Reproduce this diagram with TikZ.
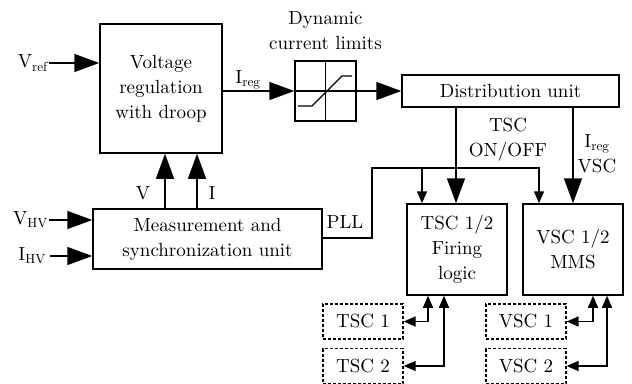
\documentclass[tikz,border=0pt]{standalone}
\usepackage{fontspec}
\setmainfont{lmroman10-regular}[Extension=.otf]
\usetikzlibrary{positioning}
\usetikzlibrary{arrows.meta}

\tikzset{
    block/.style={draw, line width=1.5pt, align=center, inner sep=0pt},
    dashblock/.style={draw, line width=1.3pt, dash pattern=on 3pt off 2pt, align=center, inner sep=0pt,
        minimum width=80pt, minimum height=35pt},
    bigarrow/.style={line width=1.5pt, -{Triangle[length=25pt,width=18pt]}},
    smallarrow/.style={line width=1.5pt, -{Triangle[length=12pt,width=10pt]}},
    bothway/.style={line width=1.5pt, {Triangle[length=12pt,width=10pt]}-{Triangle[length=12pt,width=10pt]}},
    lbl/.style={inner sep=1pt, align=center}
}

\begin{document}
\begin{tikzpicture}[x=1pt, y=-1pt, font=\fontsize{19}{25}\selectfont]
    \useasboundingbox (0,0) rectangle (632,383);

    % main blocks
    \node[block, minimum width=122pt, minimum height=129pt] (vr) at (161,88.5) {Voltage\\regulation\\with droop};
    \node[block, minimum width=61pt, minimum height=60pt] (lim) at (325.5,91) {};
    \node[lbl, above=9pt of lim] (limtxt) {Dynamic\\current limits};
    \node[block, minimum width=217pt, minimum height=32pt] (dist) at (510.5,91) {Distribution unit};
    \node[block, minimum width=229pt, minimum height=60pt] (meas) at (207.5,239) {Measurement and\\synchronization unit};
    \node[block, minimum width=100pt, minimum height=91pt] (tsc) at (457,249.5) {TSC 1/2\\Firing\\logic};
    \node[block, minimum width=100pt, minimum height=91pt] (vsc) at (573,249.5) {VSC 1/2\\MMS};

    % converters
    \node[dashblock] (tsca) at (363,321.5) {TSC 1};
    \node[dashblock] (tscb) at (363,366) {TSC 2};
    \node[dashblock] (vsca) at (526,321.5) {VSC 1};
    \node[dashblock] (vscb) at (526,366) {VSC 2};

    % limiter characteristic
    \draw[line width=1.2pt] (lim.north) -- (lim.south) (lim.west) -- (lim.east);
    \draw[line width=1.2pt] (298,106) -- (312,106) -- (342,76) -- (352,76);

    % inputs
    \node[lbl, anchor=east] (vref) at (49,63) {V\textsubscript{ref}};
    \node[lbl, anchor=east] (vhv) at (49,220) {V\textsubscript{HV}};
    \node[lbl, anchor=east] (ihv) at (47,256) {I\textsubscript{HV}};
    \draw[bigarrow] (vref.east) -- (vr.west |- vref.east);
    \draw[bigarrow] (vhv.east) -- (meas.west |- vhv.east);
    \draw[bigarrow] (50,256) -- (meas.west |- 0,256);

    % measurements to regulator
    \draw[bigarrow] (meas.north -| 165,0) -- (vr.south -| 165,0);
    \draw[bigarrow] (meas.north -| 197,0) -- (vr.south -| 197,0);
    \node[lbl] (vlbl) at (143,193) {V};
    \node[lbl] (ilbl) at (212,193) {I};

    % current reference path
    \draw[bigarrow] (vr.east |- lim.west) -- (lim.west);
    \node[lbl] (ireg) at (248,80) {I\textsubscript{reg}};
    \draw[bigarrow] (lim.east) -- (dist.west);

    % distribution outputs
    \draw[bigarrow] (dist.south -| 456,0) -- (tsc.north -| 456,0);
    \draw[bigarrow] (dist.south -| 573,0) -- (vsc.north -| 573,0);
    \node[lbl] (onoff) at (508,140) {TSC\\ON/OFF};
    \node[lbl] (iregvsc) at (597,154) {I\textsubscript{reg}\\VSC};

    % PLL
    \coordinate (pllup) at (372,168);
    \draw[smallarrow] (meas.east |- 0,238) -- (pllup |- 0,238) -- (pllup) -- (539,168) -- (vsc.north -| 539,0);
    \draw[smallarrow] (422,168) -- (tsc.north -| 422,0);
    \node[lbl] (pll) at (345,222) {PLL};

    % firing signals
    \draw[bothway] (tsca.east) -- (428,321.5) -- (tsc.south -| 428,0);
    \draw[bothway] (tscb.east) -- (444,366) -- (tsc.south -| 444,0);
    \draw[bothway] (vsca.east) -- (593,321.5) -- (vsc.south -| 593,0);
    \draw[bothway] (vscb.east) -- (607,366) -- (vsc.south -| 607,0);
\end{tikzpicture}
\end{document}
